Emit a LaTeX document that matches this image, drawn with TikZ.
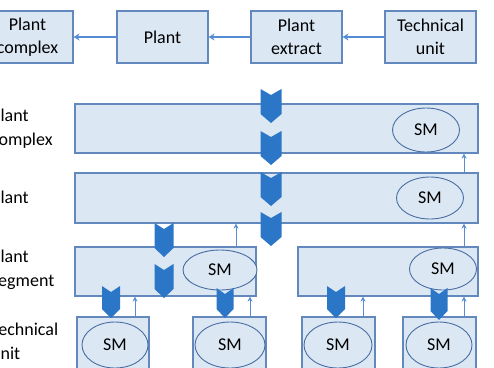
\documentclass[tikz,border=0pt]{standalone}
\usepackage{fontspec}
\setmainfont{Carlito}
\usetikzlibrary{shapes.geometric,arrows.meta}
\definecolor{boxfill}{RGB}{220,231,244}
\definecolor{boxline}{RGB}{98,136,190}
\definecolor{chevblue}{RGB}{44,118,200}
\definecolor{linkblue}{RGB}{84,141,212}
\definecolor{ovalline}{RGB}{72,110,162}
\tikzset{
  box/.style={draw=boxline, fill=boxfill, line width=1.1pt, inner sep=0pt,
    align=center, font=\fontsize{18}{23}\selectfont},
  oval/.style={ellipse, draw=ovalline, fill=boxfill, line width=0.9pt,
    inner sep=0pt, font=\fontsize{18}{22}\selectfont},
  lbl/.style={anchor=west, align=left, inner sep=0pt,
    font=\fontsize{18}{24}\selectfont},
  flow/.style={draw=linkblue, line width=2.2pt, -{Stealth[length=6pt,width=7pt]}},
  upflow/.style={draw=linkblue, line width=0.9pt, -{Stealth[length=5pt,width=5pt]}},
}
% downward chevron: centre x, top y, tip y, width
\newcommand{\chevron}[4]{%
  \fill[chevblue] ({#1-#4/2},#2) -- (#1,{#2+6}) -- ({#1+#4/2},#2)
    -- ({#1+#4/2},{#3-9}) -- (#1,#3) -- ({#1-#4/2},{#3-9}) -- cycle;}
\begin{document}
\begin{tikzpicture}[x=1pt,y=-1pt]
\useasboundingbox (0,0) rectangle (494,367);
\clip (0,0) rectangle (494,367);

% top chain
\node[box, minimum width=91pt, minimum height=52pt] (pc) at (27.5,37) {Plant\\complex};
\node[box, minimum width=91pt, minimum height=52pt] (pl) at (162.5,37) {Plant};
\node[box, minimum width=91pt, minimum height=52pt] (pe) at (296.5,37) {Plant\\extract};
\node[box, minimum width=91pt, minimum height=52pt] (tu) at (430.5,37) {Technical\\unit};
\draw[flow] (tu.west) -- (pe.east);
\draw[flow] (pe.west) -- (pl.east);
\draw[flow] (pl.west) -- (pc.east);

% level labels
\node[lbl] (l1) at (-9,129) {Plant\\complex};
\node[lbl] (l2) at (-9,197) {Plant};
\node[lbl] (l3) at (-9,270) {Plant\\segment};
\node[lbl] (l4) at (-9,341) {Technical\\unit};

% hierarchy bands
\node[box, minimum width=403pt, minimum height=49pt] (b1) at (276.5,128.5) {};
\node[box, minimum width=403pt, minimum height=50pt] (b2) at (276.5,198) {};
\node[box, minimum width=181pt, minimum height=49pt] (s1) at (165.5,271.5) {};
\node[box, minimum width=180pt, minimum height=49pt] (s2) at (388,271.5) {};
\node[box, minimum width=72pt, minimum height=55pt] (t1) at (113,344.5) {};
\node[box, minimum width=73pt, minimum height=55pt] (t2) at (229.5,344.5) {};
\node[box, minimum width=73pt, minimum height=55pt] (t3) at (338.5,344.5) {};
\node[box, minimum width=73pt, minimum height=55pt] (t4) at (439.5,344.5) {};

% state models
\node[oval, minimum width=67pt, minimum height=44pt] (e1) at (426,130) {SM};
\node[oval, minimum width=67pt, minimum height=42pt] (e2) at (430,198) {SM};
\node[oval, minimum width=74pt, minimum height=40pt] (e3) at (220,270) {SM};
\node[oval, minimum width=67pt, minimum height=42pt] (e4) at (443,269) {SM};
\node[oval, minimum width=66pt, minimum height=46pt] (e5) at (115,345) {SM};
\node[oval, minimum width=70pt, minimum height=46pt] (e6) at (230,345) {SM};
\node[oval, minimum width=68pt, minimum height=46pt] (e7) at (338,345) {SM};
\node[oval, minimum width=66pt, minimum height=46pt] (e8) at (439,345) {SM};

% upward links
\coordinate (xa) at (135,0);
\coordinate (xb) at (236,0);
\coordinate (xc) at (250,0);
\coordinate (xd) at (363,0);
\coordinate (xe) at (464,0);
\draw[upflow] (b2.north -| xe) -- (b1.south -| xe);
\draw[upflow] (s2.north -| xe) -- (b2.south -| xe);
\draw[upflow] (s1.north -| xb) -- (b2.south -| xb);
\draw[upflow] (t1.north -| xa) -- (s1.south -| xa);
\draw[upflow] (t2.north -| xc) -- (s1.south -| xc);
\draw[upflow] (t3.north -| xd) -- (s2.south -| xd);
\draw[upflow] (t4.north -| xe) -- (s2.south -| xe);

% downward chevrons
\chevron{271}{89}{123}{21}
\chevron{271}{131}{165}{21}
\chevron{271}{172}{206}{21}
\chevron{271}{212}{246}{21}
\chevron{164}{223}{257}{19}
\chevron{164}{264}{298}{19}
\chevron{111}{286}{318}{18}
\chevron{225}{288}{318}{17}
\chevron{336}{286}{318}{18}
\chevron{439}{288}{320}{17}
\end{tikzpicture}
\end{document}
